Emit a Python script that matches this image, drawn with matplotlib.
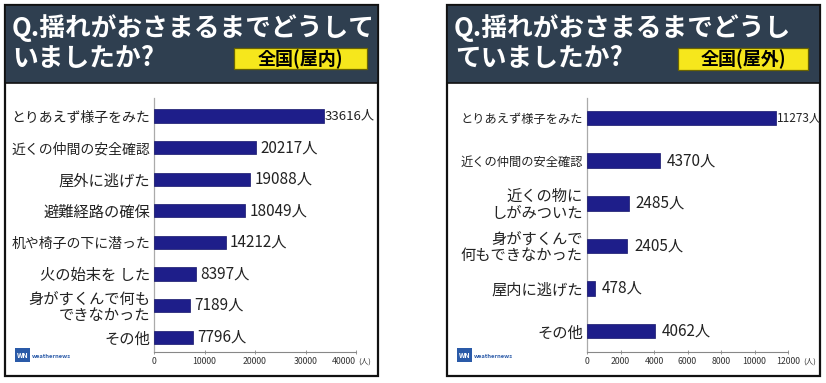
import matplotlib
matplotlib.use("Agg")
import matplotlib.pyplot as plt
from matplotlib.patches import Rectangle

plt.rcParams['font.family'] = ['Noto Sans CJK JP', 'DejaVu Sans']

# ---- data ----
indoor_labels = ["とりあえず様子をみた", "近くの仲間の安全確認", "屋外に逃げた", "避難経路の確保",
                 "机や椅子の下に潜った", "火の始末を した", "身がすくんで何も\nできなかった", "その他"]
indoor_values = [33616, 20217, 19088, 18049, 14212, 8397, 7189, 7796]
indoor_ticks = [0, 10000, 20000, 30000, 40000]

outdoor_labels = ["とりあえず様子をみた", "近くの仲間の安全確認", "近くの物に\nしがみついた",
                  "身がすくんで\n何もできなかった", "屋内に逃げた", "その他"]
outdoor_values = [11273, 4370, 2485, 2405, 478, 4062]
outdoor_ticks = [0, 2000, 4000, 6000, 8000, 10000, 12000]

title_line1 = ["Q.揺れがおさまるまでどうして", "Q.揺れがおさまるまでどうし"]
title_line2 = ["いましたか?", "ていましたか?"]
badges = ["全国(屋内)", "全国(屋外)"]
unit = "人"

W, H = 826, 383
fig = plt.figure(figsize=(W / 100, H / 100), dpi=100)
fig.patch.set_facecolor('white')

HEADER = '#2f3f50'
BAR = '#1e1e8a'
YELLOW = '#f6e71c'


def fx(x):
    return x / W


def fy(y):
    return 1 - y / H


def panel(x0, x1, y0, y1, hdr_bottom, t1, t2, badge, bx0, bx1, by0, by1, t2x):
    fig.patches.append(Rectangle((fx(x0), fy(y1)), fx(x1) - fx(x0), fy(y0) - fy(y1),
                                 transform=fig.transFigure, facecolor='white',
                                 edgecolor='#111111', lw=1.6, zorder=-2))
    fig.patches.append(Rectangle((fx(x0), fy(hdr_bottom)), fx(x1) - fx(x0), fy(y0) - fy(hdr_bottom),
                                 transform=fig.transFigure, facecolor=HEADER,
                                 edgecolor='#111111', lw=1.2, zorder=-1))
    fig.text(fx(x0 + 7), fy(28), t1, color='white', fontsize=18.5, fontweight='bold',
             va='center', ha='left', zorder=3)
    fig.text(fx(t2x), fy(58), t2, color='white', fontsize=18.5, fontweight='bold',
             va='center', ha='left', zorder=3)
    fig.patches.append(Rectangle((fx(bx0), fy(by1)), fx(bx1) - fx(bx0), fy(by0) - fy(by1),
                                 transform=fig.transFigure, facecolor=YELLOW,
                                 edgecolor='#6b6400', lw=0.9, zorder=2))
    fig.text((fx(bx0) + fx(bx1)) / 2, fy((by0 + by1) / 2 + 0.5), badge, color='black',
             fontsize=13, fontweight='bold', va='center', ha='center', zorder=3)
    # logo
    lx, ly = x0 + 10, 362
    fig.patches.append(Rectangle((fx(lx), fy(ly)), fx(15), fy(0) - fy(14),
                                 transform=fig.transFigure, facecolor='#2a5aa8',
                                 edgecolor='none', zorder=2))
    fig.text(fx(lx + 7.5), fy(ly - 7), "WN", color='white', fontsize=5, fontweight='bold',
             ha='center', va='center', zorder=3, style='italic')
    fig.text(fx(lx + 17), fy(ly - 6), "weathernews", color='#2a5aa8', fontsize=4.2,
             ha='left', va='center', fontweight='bold', zorder=3)


def bars(ax_x0, ax_x1, ax_y0, ax_y1, labels, values, ticks, xmax, ylim, bh,
         lab_fs, long_fs, val_fs, edge_fs, val_off, unit_x, last_right):
    ax = fig.add_axes([fx(ax_x0), fy(ax_y1), fx(ax_x1) - fx(ax_x0), fy(ax_y0) - fy(ax_y1)])
    ax.set_zorder(5)
    ax.set_facecolor('none')
    ypos = list(range(len(values)))
    ax.barh(ypos, values, height=bh, color=BAR, edgecolor='#14146a', lw=0.5, zorder=3)
    ax.set_xlim(0, xmax)
    ax.set_ylim(*ylim)
    ax.set_yticks(ypos)
    ax.set_yticklabels(labels, color='#222222', linespacing=0.95)
    for t, lab in zip(ax.get_yticklabels(), labels):
        longest = max(len(s) for s in lab.split("\n"))
        t.set_fontsize(long_fs if longest >= 10 else lab_fs)
    ax.set_xticks(ticks)
    ax.set_xticklabels([str(t) for t in ticks], fontsize=6.3, color='#333333')
    if last_right:
        ax.get_xticklabels()[-1].set_horizontalalignment('right')
    ax.tick_params(axis='y', length=0, pad=3)
    ax.tick_params(axis='x', length=3, direction='inout', width=0.6, color='#888888', pad=2)
    for s in ['top', 'right']:
        ax.spines[s].set_visible(False)
    ax.spines['left'].set_color('#aaaaaa')
    ax.spines['left'].set_linewidth(0.9)
    ax.spines['bottom'].set_color('#888888')
    ax.spines['bottom'].set_linewidth(0.8)
    for y, v in zip(ypos, values):
        near_edge = v > 0.8 * xmax
        ax.annotate(f"{v}{unit}", (v, y), xytext=(0.5 if near_edge else val_off, 0),
                    textcoords='offset points', va='center', ha='left',
                    fontsize=edge_fs if near_edge else val_fs, color='#222222')
    fig.text(fx(unit_x), fy(362), f"({unit})", fontsize=5.5, color='#333333',
             ha='left', va='center', zorder=6)
    return ax


panel(5, 378, 5, 376, 83, title_line1[0], title_line2[0], badges[0], 234, 367, 48, 69, 12)
panel(447, 820, 5, 376, 83, title_line1[1], title_line2[1], badges[1], 678, 808, 48, 70, 455)

bars(154, 356, 98, 352, indoor_labels, indoor_values, indoor_ticks, 40000,
     (7.47, -0.57), 0.42, 11, 10, 11, 9.5, 3, 358, True)
bars(587, 788, 98, 352, outdoor_labels, outdoor_values, outdoor_ticks, 12000,
     (5.49, -0.47), 0.34, 11, 8.8, 11, 8.5, 5, 803, False)

fig.savefig("out.png", dpi=100, facecolor='white')
